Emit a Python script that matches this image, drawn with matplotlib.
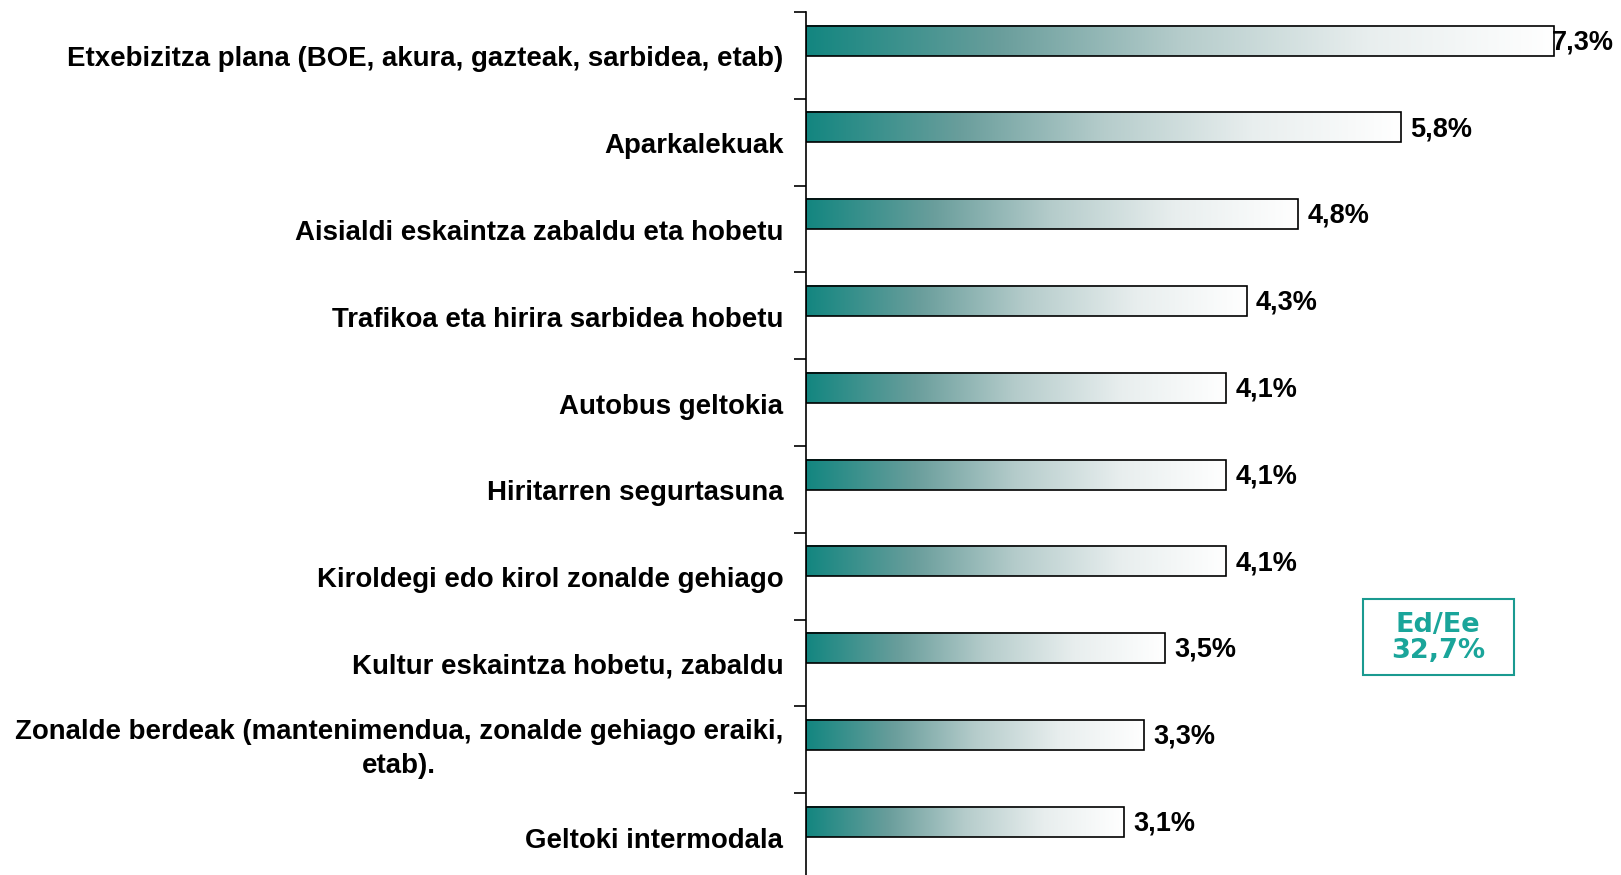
import numpy as np
from matplotlib import pyplot as plt
from matplotlib.colors import LinearSegmentedColormap
from matplotlib.patches import Rectangle

categories = [
    "Etxebizitza plana (BOE, akura, gazteak, sarbidea, etab)",
    "Aparkalekuak",
    "Aisialdi eskaintza zabaldu eta hobetu",
    "Trafikoa eta hirira sarbidea hobetu",
    "Autobus geltokia",
    "Hiritarren segurtasuna",
    "Kiroldegi edo kirol zonalde gehiago",
    "Kultur eskaintza hobetu, zabaldu",
    "Zonalde berdeak (mantenimendua, zonalde gehiago eraiki,\netab).",
    "Geltoki intermodala",
]
values = [7.3, 5.8, 4.8, 4.3, 4.1, 4.1, 4.1, 3.5, 3.3, 3.1]
value_labels = ["7,3%", "5,8%", "4,8%", "4,3%", "4,1%", "4,1%", "4,1%", "3,5%", "3,3%", "3,1%"]
box_text = "Ed/Ee\n32,7%"

fade = LinearSegmentedColormap.from_list(
    "fade", [(0.0, "#138680"), (0.26, "#6a9e9c"), (0.5, "#b5cccb"),
             (0.75, "#e8eeee"), (1.0, "#ffffff")])
grad = np.linspace(0, 1, 256).reshape(1, -1)

W, H = 1621, 875
fig = plt.figure(figsize=(W / 100, H / 100), dpi=100)
ax = fig.add_axes([806 / W, -5 / H, 1 - 806 / W, 868 / H])

n = len(values)
ypos = np.arange(n)
bar_h = 0.346
off = -0.17
xmax = 815 / 102.5

for y, v, lab in zip(ypos, values, value_labels):
    yc = y + off
    ax.imshow(grad, cmap=fade, aspect="auto", interpolation="bilinear",
              extent=(0, v, yc + bar_h / 2, yc - bar_h / 2), zorder=1)
    ax.barh(yc, v, height=bar_h, fill=False, edgecolor="black", linewidth=1.2, zorder=2)
    # top label has no room on the right, so it sits against the bar end
    ax.text(min(v + 0.09, xmax - 0.67), yc + 0.02, lab, ha="left", va="center",
            fontsize=19.5, fontweight="bold", family="Liberation Sans")

for y, c in zip(ypos, categories):
    dy = -0.01 if "\n" in c else 0.045
    ax.text(-0.22, y + dy, c, ha="right", va="center", fontsize=19.9, fontweight="bold",
            family="Liberation Sans", multialignment="center", linespacing=1.42)

ax.set_xlim(0, xmax)
ax.set_ylim(n - 0.5, -0.5)
ax.set_yticks(np.arange(n + 1) - 0.5)
ax.set_yticklabels([])
ax.tick_params(axis="y", direction="out", length=9, width=1.2)
ax.set_xticks([])
for s in ["top", "right", "bottom"]:
    ax.spines[s].set_visible(False)
ax.spines["left"].set_linewidth(1.2)

# Ed/Ee box
fig.patches.append(Rectangle((1363 / W, 1 - 675 / H), 151 / W, 76 / H,
                             transform=fig.transFigure, facecolor="white",
                             edgecolor="#1a9a90", linewidth=1.5))
fig.text(1438 / W, 1 - 638 / H, box_text, ha="center", va="center",
         fontsize=19.5, color="#1aa59a", family="DejaVu Sans", fontweight="bold",
         linespacing=1.0)

plt.savefig("out.png", dpi=100)
